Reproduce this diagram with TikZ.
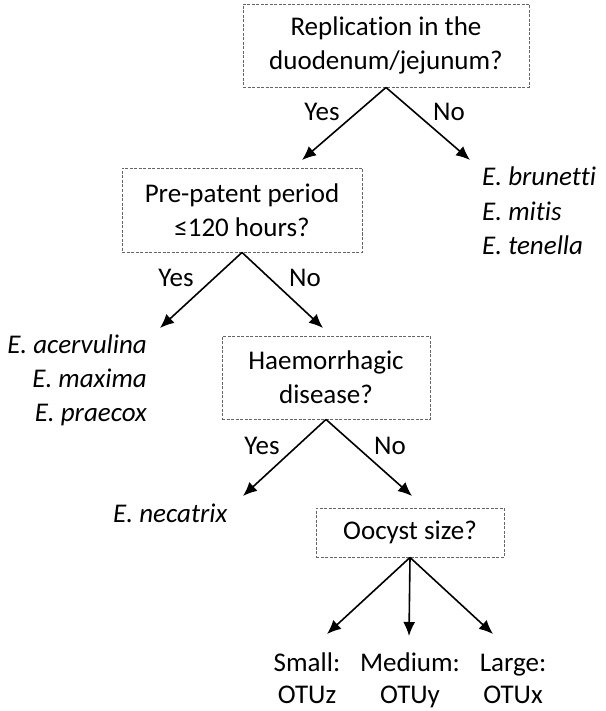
\documentclass[tikz,border=0pt]{standalone}
\usepackage{fontspec}
\setmainfont[Ligatures=NoCommon]{Carlito}
\usetikzlibrary{arrows.meta}
\begin{document}
\begin{tikzpicture}[x=1pt,y=-1pt,
  qbox/.style={draw=gray!80!black, dashed, dash pattern=on 3pt off 1.5pt, line width=0.9pt, align=center, inner sep=0pt, font=\fontsize{27}{34}\selectfont},
  txt/.style={font=\fontsize{27}{32}\selectfont, inner sep=0pt},
  itxt/.style={font=\fontsize{27}{34}\selectfont\itshape, inner sep=0pt},
  arr/.style={line width=1.6pt, -{Latex[length=14pt,width=12pt]}}]
\useasboundingbox (0,0) rectangle (605,711);
% boxes
\node[qbox, minimum width=286pt, minimum height=83pt] (b1) at (386,45.5) {Replication in the\\duodenum/jejunum?};
\node[qbox, minimum width=240pt, minimum height=84pt] (b2) at (242,210) {Pre-patent period\\≤120 hours?};
\node[qbox, minimum width=208pt, minimum height=83pt] (b3) at (326,377.5) {Haemorrhagic\\disease?};
\node[qbox, minimum width=188pt, minimum height=49pt] (b4) at (410,532.5) {Oocyst size?};
% arrow ends
\coordinate (e1) at (302,160);
\coordinate (e2) at (470,160);
\coordinate (e3) at (160,328);
\coordinate (e4) at (323,328);
\coordinate (e5) at (243,496);
\coordinate (e6) at (412,496);
\coordinate (e7) at (327,634);
\coordinate (e8) at (409,636);
\coordinate (e9) at (493,634);
\draw[arr] (b1.south) -- (e1);
\draw[arr] (b1.south) -- (e2);
\draw[arr] (b2.south) -- (e3);
\draw[arr] (b2.south) -- (e4);
\draw[arr] (b3.south) -- (e5);
\draw[arr] (b3.south) -- (e6);
\draw[arr] (b4.south) -- (e7);
\draw[arr] (b4.south) -- (e8);
\draw[arr] (b4.south) -- (e9);
% labels
\node[txt] (y1) at (322,112) {Yes};
\node[txt] (n1) at (449,112) {No};
\node[txt] (y2) at (176,278) {Yes};
\node[txt] (n2) at (305,278) {No};
\node[txt] (y3) at (262,446) {Yes};
\node[txt] (n3) at (390,446) {No};
% species (base anchor = baseline of last line)
\node[itxt, align=left, anchor=base west] (s1) at (482,254) {E. brunetti\\E. mitis\\E. tenella};
\node[itxt, align=right, anchor=base east] (s2) at (147,421) {E. acervulina\\E. maxima\\E. praecox};
\node[itxt, anchor=base west] (s3) at (113,522) {E. necatrix};
% bottom
\node[txt, align=center, anchor=base] (o1) at (307,703) {Small:\\OTUz};
\node[txt, align=center, anchor=base] (o2) at (410,703) {Medium:\\OTUy};
\node[txt, align=center, anchor=base] (o3) at (513,703) {Large:\\OTUx};
\end{tikzpicture}
\end{document}
